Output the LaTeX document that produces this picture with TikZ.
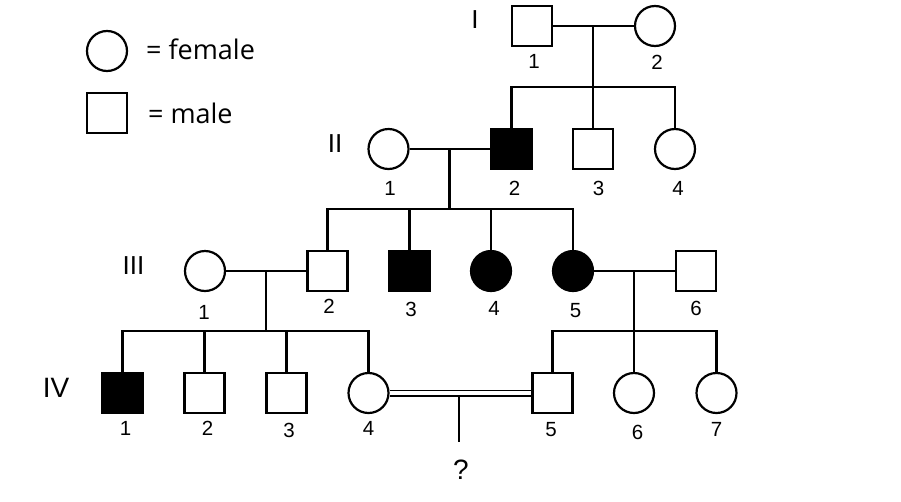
\documentclass[tikz,border=0pt]{standalone}
\usepackage{fontspec}
\setmainfont{Liberation Sans}
\newfontfamily\legendfont{Open Sans}
\begin{document}
\begin{tikzpicture}[x=1pt,y=-1pt, line width=2.2pt,
  male/.style={draw, rectangle, minimum size=40pt, inner sep=0pt, fill=white},
  female/.style={draw, circle, minimum size=40pt, inner sep=0pt, fill=white},
  aff/.style={fill=black},
  num/.style={font=\fontsize{20.5}{24}\selectfont, inner sep=0pt},
  gen/.style={font=\fontsize{26}{30}\selectfont, inner sep=0pt},
  leg/.style={font=\legendfont\fontsize{27}{32}\selectfont, anchor=base west, inner sep=0pt},
  dbl/.style={line width=1.8pt}]
\useasboundingbox (0,0) rectangle (901,501);

% legend
\node[female] (lf) at (107,51) {};
\node[leg] (lft) at (145,59) {= female};
\node[male] (lm) at (107,113) {};
\node[leg] (lmt) at (147,123) {= male};

% generation labels
\node[gen] (gI) at (475,19.5) {I};
\node[gen] (gII) at (335,144) {II};
\node[gen] (gIII) at (133.5,265.5) {III};
\node[gen,font=\fontsize{28}{32}\selectfont] (gIV) at (56,387.5) {IV};

% generation I
\node[male] (I1) at (532,26) {};
\node[female] (I2) at (655,26) {};
\node[num] (nI1) at (534,61) {1};
\node[num] (nI2) at (657,62.5) {2};

% generation II
\node[female] (II1) at (388.5,149) {};
\node[male,aff] (II2) at (511.5,149) {};
\node[male] (II3) at (593,149) {};
\node[female] (II4) at (675,149) {};
\node[num] (nII1) at (390,188.5) {1};
\node[num] (nII2) at (514.5,188.5) {2};
\node[num] (nII3) at (598.5,188.5) {3};
\node[num] (nII4) at (678,188.5) {4};

% generation III
\node[female] (III1) at (205,271) {};
\node[male] (III2) at (327.5,271) {};
\node[male,aff] (III3) at (409.5,271) {};
\node[female,aff] (III4) at (491,271) {};
\node[female,aff] (III5) at (573,271) {};
\node[male] (III6) at (696,271) {};
\node[num] (nIII1) at (204,312.5) {1};
\node[num] (nIII2) at (329,306.5) {2};
\node[num] (nIII3) at (411,309) {3};
\node[num] (nIII4) at (494,308.5) {4};
\node[num] (nIII5) at (575.5,310.5) {5};
\node[num] (nIII6) at (696,308) {6};

% generation IV
\node[male,aff] (IV1) at (122.5,393) {};
\node[male] (IV2) at (204.5,393) {};
\node[male] (IV3) at (286.5,393) {};
\node[female] (IV4) at (368.5,393) {};
\node[male] (IV5) at (552.5,393) {};
\node[female] (IV6) at (634,393) {};
\node[female] (IV7) at (716.5,393) {};
\node[num] (nIV1) at (125.5,428.5) {1};
\node[num] (nIV2) at (207.5,428.5) {2};
\node[num] (nIV3) at (289,430) {3};
\node[num] (nIV4) at (368.5,428.5) {4};
\node[num] (nIV5) at (551,430) {5};
\node[num] (nIV6) at (637.5,432) {6};
\node[num] (nIV7) at (716.5,429.5) {7};
\node[gen,font=\fontsize{28}{32}\selectfont] (qm) at (461,470) {?};

% couple / sibship coordinates
\coordinate (m1) at (593,26);
\coordinate (s1) at (593,87);
\coordinate (m2) at (449.5,149);
\coordinate (s2) at (449.5,209);
\coordinate (m3) at (266,271);
\coordinate (s3) at (266,331);
\coordinate (m4) at (634,271);
\coordinate (s4) at (634,331);
\coordinate (m5) at (459,395.6);
\coordinate (q) at (459,442);

% I
\draw (I1) -- (I2);
\draw (m1) -- (s1);
\draw (II2.north) |- (s1) -| (II4.north);
\draw (s1) -- (II3.north);

% II
\draw (II1) -- (II2);
\draw (m2) -- (s2);
\draw (III2.north) |- (s2) -| (III5.north);
\draw (III3.north) -- (III3.north |- s2);
\draw (III4.north) -- (III4.north |- s2);

% III left
\draw (III1) -- (III2);
\draw (m3) -- (s3);
\draw (IV1.north) |- (s3) -| (IV4.north);
\draw (IV2.north) -- (IV2.north |- s3);
\draw (IV3.north) -- (IV3.north |- s3);

% III right
\draw (III5) -- (III6);
\draw (m4) -- (s4);
\draw (IV5.north) |- (s4) -| (IV7.north);
\draw (s4) -- (IV6.north);

% consanguineous mating
\draw[dbl] ([yshift=2.6pt]IV4.east) -- ([yshift=2.6pt]IV5.west);
\draw[dbl] ([yshift=-2.6pt]IV4.east) -- ([yshift=-2.6pt]IV5.west);
\draw (m5) -- (q);
\end{tikzpicture}
\end{document}
